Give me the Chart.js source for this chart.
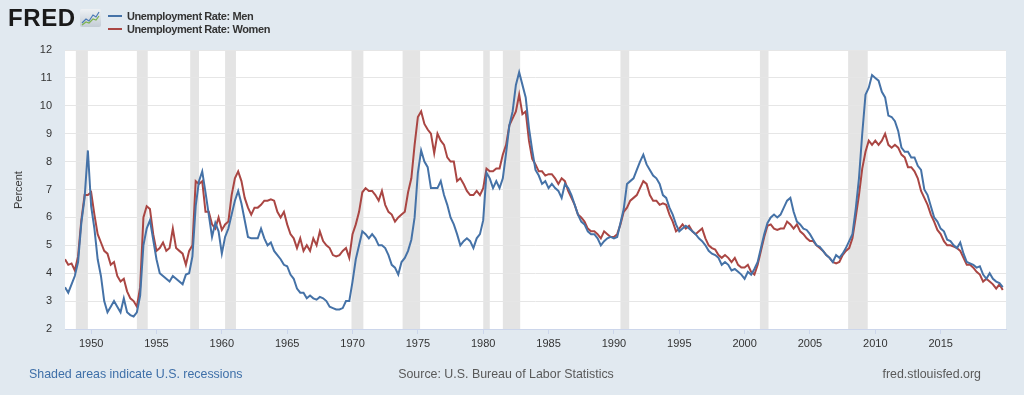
<!DOCTYPE html>
<html>
<head>
<meta charset="utf-8">
<script src="https://cdn.jsdelivr.net/npm/chart.js@4.4.1/dist/chart.umd.min.js"></script>
<style>
  body { margin: 0; background: #e1e9f0; font-family: "Liberation Sans", Arial, sans-serif; }
  #page { position: relative; width: 1024px; height: 395px; overflow: hidden; }
  #wrap { position: absolute; left: 0; top: 0; width: 1024px; height: 395px; }
  .logo { position: absolute; left: 8px; top: 5px; font-size: 24px; line-height: 26px; font-weight: bold; letter-spacing: 0.6px; color: #1a1a1a; }
  .icon { position: absolute; left: 80px; top: 9px; }
  .leg { position: absolute; left: 108px; font-size: 11px; font-weight: bold; letter-spacing: -0.4px; color: #333; line-height: 13px; }
  .leg i { display: inline-block; width: 14px; height: 2px; vertical-align: middle; margin-right: 5px; position: relative; top: -1px; }
  .ytitle { position: absolute; left: 18px; top: 190px; font-size: 11px; color: #333; transform: translate(-50%, -50%) rotate(-90deg); }
  .foot { position: absolute; top: 366px; font-size: 12.4px; line-height: 16px; color: #595959; }
</style>
</head>
<body>
<div id="page">
  <div id="wrap"><canvas id="chart"></canvas></div>
  <div class="logo">FRED</div>
  <svg class="icon" width="21" height="18" viewBox="0 0 21 18">
    <defs><linearGradient id="g" x1="0" y1="0" x2="0" y2="1"><stop offset="0" stop-color="#eef1f4"/><stop offset="1" stop-color="#c3ccd5"/></linearGradient></defs>
    <rect x="0" y="0" width="21" height="18" rx="2" fill="url(#g)"/>
    <polyline points="2,14 6,10 9,12 13,6 16,8 19,3" fill="none" stroke="#4a7ab5" stroke-width="1.2"/>
    <polyline points="2,16 6,13 9,14 13,10 16,11 19,7" fill="none" stroke="#7db350" stroke-width="1.2"/>
  </svg>
  <div class="leg" style="top:10px"><i style="background:#4572a7"></i>Unemployment Rate: Men</div>
  <div class="leg" style="top:23px"><i style="background:#aa4643"></i>Unemployment Rate: Women</div>
  <div class="ytitle">Percent</div>
  <div class="foot" style="left:29px;color:#3e6fa8">Shaded areas indicate U.S. recessions</div>
  <div class="foot" style="left:506px;transform:translateX(-50%)">Source: U.S. Bureau of Labor Statistics</div>
  <div class="foot" style="right:43px">fred.stlouisfed.org</div>
</div>
<script>
// Taux de chômage trimestriel, de 1948 T1 à 2019 T4
const firstYear = 1948;
const lastYear = 2019;

const menRate = [
  3.5, 3.3, 3.6, 3.9,     4.4, 5.8, 6.7, 8.4,     6.4, 5.6, 4.5, 3.9,     3.0, 2.6, 2.8, 3.0,
  2.8, 2.6, 3.1, 2.6,     2.5, 2.45, 2.6, 3.2,    5.0, 5.6, 5.9, 5.2,     4.5, 4.0, 3.9, 3.8,
  3.7, 3.9, 3.8, 3.7,     3.6, 3.95, 4.0, 4.6,    6.4, 7.3, 7.65, 6.9,    6.1, 5.3, 5.8, 5.5,
  4.7, 5.3, 5.6, 6.1,     6.6, 6.95, 6.5, 5.9,    5.3, 5.25, 5.25, 5.25,  5.6, 5.25, 5.0, 5.1,
  4.8, 4.65, 4.5, 4.3,    4.25, 3.95, 3.8, 3.45,  3.3, 3.3, 3.1, 3.2,     3.1, 3.05, 3.15, 3.1,
  3.0, 2.8, 2.75, 2.7,    2.7, 2.75, 3.0, 3.0,    3.7, 4.5, 5.0, 5.5,     5.4, 5.25, 5.4, 5.25,
  5.0, 5.0, 4.9, 4.65,    4.3, 4.2, 3.95, 4.4,    4.55, 4.8, 5.2, 6.0,    7.6, 8.4, 8.0, 7.8,
  7.05, 7.05, 7.05, 7.3,  6.8, 6.45, 6.0, 5.75,   5.4, 5.0, 5.15, 5.25,   5.15, 4.9, 5.25, 5.4,
  5.9, 7.6, 7.4, 7.05,    7.3, 7.05, 7.4, 8.3,    9.3, 9.8, 10.75, 11.2,  10.75, 10.3, 9.2, 8.4,
  7.7, 7.5, 7.2, 7.3,     7.05, 7.2, 7.05, 6.95,  6.7, 7.2, 7.05, 6.8,    6.45, 6.1, 5.85, 5.75,
  5.5, 5.4, 5.4, 5.25,    5.0, 5.15, 5.25, 5.3,   5.25, 5.3, 5.8, 6.3,    7.2, 7.3, 7.4, 7.7,
  8.0, 8.25, 7.9, 7.7,    7.5, 7.4, 7.2, 6.8,     6.7, 6.35, 6.1, 5.75,   5.5, 5.6, 5.7, 5.6,
  5.5, 5.4, 5.25, 5.15,   5.0, 4.8, 4.7, 4.65,    4.55, 4.3, 4.4, 4.3,    4.1, 4.15, 4.05, 3.95,
  3.8, 4.05, 3.95, 4.15,  4.4, 4.9, 5.4, 5.8,     6.0, 6.1, 6.0, 6.1,     6.35, 6.6, 6.7, 6.2,
  5.85, 5.75, 5.6, 5.55,  5.4, 5.2, 5.0, 4.95,    4.8, 4.65, 4.55, 4.4,   4.65, 4.55, 4.7, 4.9,
  5.15, 5.4, 6.3, 7.4,    9.0, 10.4, 10.65, 11.1, 11.0, 10.9, 10.5, 10.3, 9.65, 9.6, 9.45, 9.1,
  8.5, 8.35, 8.35, 8.15,  8.15, 7.85, 7.7, 7.0,   6.8, 6.4, 6.0, 5.85,    5.6, 5.5, 5.2, 5.15,
  5.0, 4.9, 5.1, 4.7,     4.4, 4.35, 4.3, 4.2,    4.25, 3.95, 3.8, 4.0,   3.8, 3.7, 3.65, 3.5
];

const womenRate = [
  4.5, 4.3, 4.35, 4.1,    4.6, 5.9, 6.8, 6.8,     6.9, 6.1, 5.4, 5.1,     4.8, 4.7, 4.3, 4.4,
  3.9, 3.7, 3.8, 3.35,    3.1, 3.0, 2.8, 3.5,     6.0, 6.4, 6.3, 5.4,     4.8, 4.9, 5.1, 4.8,
  4.9, 5.6, 4.9, 4.8,     4.7, 4.3, 4.8, 5.0,     7.3, 7.2, 7.3, 6.2,     6.2, 5.75, 5.6, 6.0,
  5.55, 5.75, 5.85, 6.8,  7.4, 7.65, 7.3, 6.7,    6.35, 6.1, 6.35, 6.35,  6.45, 6.6, 6.6, 6.65,
  6.6, 6.2, 6.0, 6.2,     5.75, 5.4, 5.25, 4.9,   5.25, 4.8, 5.0, 4.8,    5.25, 5.0, 5.5, 5.15,
  5.0, 4.9, 4.65, 4.6,    4.65, 4.8, 4.9, 4.55,   5.4, 5.75, 6.2, 6.9,    7.05, 6.95, 6.95, 6.8,
  6.6, 6.95, 6.45, 6.2,   6.1, 5.85, 6.0, 6.1,    6.2, 6.9, 7.4, 8.6,     9.6, 9.8, 9.35, 9.15,
  9.0, 8.3, 9.0, 8.75,    8.6, 8.15, 8.0, 8.0,    7.3, 7.4, 7.2, 6.95,    6.8, 6.8, 6.95, 6.8,
  7.05, 7.75, 7.65, 7.65, 7.75, 7.75, 8.25, 8.6,  9.3, 9.55, 9.8, 10.4,   9.7, 9.8, 8.75, 8.1,
  7.9, 7.65, 7.65, 7.5,   7.55, 7.55, 7.4, 7.2,   7.4, 7.3, 6.95, 6.7,    6.45, 6.1, 6.0, 5.85,
  5.6, 5.5, 5.5, 5.4,     5.25, 5.5, 5.4, 5.3,    5.3, 5.4, 5.75, 6.2,    6.35, 6.6, 6.7, 6.8,
  7.05, 7.3, 7.2, 6.8,    6.6, 6.6, 6.45, 6.5,    6.45, 6.1, 5.85, 5.5,   5.6, 5.75, 5.6, 5.7,
  5.5, 5.4, 5.5, 5.6,     5.25, 5.0, 4.9, 4.85,   4.65, 4.55, 4.65, 4.55, 4.4, 4.55, 4.3, 4.2,
  4.2, 4.3, 4.05, 3.95,   4.3, 4.8, 5.3, 5.7,     5.75, 5.6, 5.55, 5.6,   5.6, 5.85, 5.75, 5.6,
  5.75, 5.5, 5.4, 5.25,   5.15, 5.15, 5.0, 4.9,   4.8, 4.65, 4.55, 4.4,   4.35, 4.4, 4.65, 4.8,
  4.9, 5.25, 6.0, 6.8,    7.75, 8.35, 8.75, 8.6,  8.75, 8.6, 8.75, 9.0,   8.6, 8.5, 8.6, 8.5,
  8.25, 8.15, 7.8, 7.8,   7.65, 7.4, 6.95, 6.7,   6.45, 6.1, 5.85, 5.55,  5.4, 5.15, 5.0, 5.0,
  4.95, 4.9, 4.8, 4.55,   4.3, 4.3, 4.2, 4.05,    3.95, 3.7, 3.8, 3.7,    3.6, 3.45, 3.6, 3.4
];

// Récessions (NBER), en années décimales
const recessionStart = [1948.83, 1953.5, 1957.58, 1960.25, 1969.92, 1973.83, 1980.0, 1981.5, 1990.5, 2001.17, 2007.92];
const recessionEnd   = [1949.75, 1954.33, 1958.25, 1961.08, 1970.83, 1975.17, 1980.5, 1982.83, 1991.17, 2001.83, 2009.42];

const tickYears = [1950, 1955, 1960, 1965, 1970, 1975, 1980, 1985, 1990, 1995, 2000, 2005, 2010, 2015];

// Dates des trimestres
const quarters = [];
for (let y = firstYear; y <= lastYear; y++) {
    for (let q = 0; q < 4; q++) quarters.push(y + q / 4);
}

/**
 * Fond blanc de la zone de tracé et bandes de récession
 */
const recessionPlugin = {
    id: 'recessions',
    beforeDraw(chart) {
        const { ctx, chartArea, scales } = chart;
        ctx.save();
        ctx.fillStyle = '#ffffff';
        ctx.fillRect(chartArea.left, chartArea.top, chartArea.right - chartArea.left, chartArea.bottom - chartArea.top);
        ctx.fillStyle = '#e4e4e4';
        for (let i = 0; i < recessionStart.length; i++) {
            const x1 = scales.x.getPixelForValue(recessionStart[i]);
            const x2 = scales.x.getPixelForValue(recessionEnd[i]);
            ctx.fillRect(x1, chartArea.top, x2 - x1, chartArea.bottom - chartArea.top);
        }
        ctx.restore();
    }
};

function toPoints(values) {
    return values.map((v, i) => ({ x: quarters[i], y: v }));
}

document.addEventListener('DOMContentLoaded', function() {
    const ctx = document.getElementById('chart').getContext('2d');

    new Chart(ctx, {
        type: 'line',
        data: {
            datasets: [
                {
                    label: 'Unemployment Rate: Men',
                    data: toPoints(menRate),
                    borderColor: '#4572a7',
                    borderWidth: 2,
                    pointRadius: 0,
                    tension: 0
                },
                {
                    label: 'Unemployment Rate: Women',
                    data: toPoints(womenRate),
                    borderColor: '#aa4643',
                    borderWidth: 2,
                    pointRadius: 0,
                    tension: 0
                }
            ]
        },
        options: {
            responsive: true,
            maintainAspectRatio: false,
            animation: false,
            layout: { padding: { top: 50, right: 18, bottom: 40, left: 0 } },
            plugins: {
                legend: { display: false },
                tooltip: { enabled: false }
            },
            scales: {
                x: {
                    type: 'linear',
                    min: 1948,
                    max: 2020,
                    grid: { drawOnChartArea: false, color: '#ccd6eb', tickLength: 5 },
                    border: { color: '#ccd6eb' },
                    ticks: {
                        font: { size: 11, family: 'Liberation Sans' },
                        color: '#333',
                        padding: 3,
                        maxRotation: 0,
                        callback: v => String(v)
                    },
                    afterBuildTicks: s => { s.ticks = tickYears.map(v => ({ value: v })); },
                    afterFit: s => { s.height = 26; }
                },
                y: {
                    min: 2,
                    max: 12,
                    grid: { color: '#e6e6e6', drawTicks: false },
                    border: { display: false },
                    ticks: {
                        stepSize: 1,
                        font: { size: 11, family: 'Liberation Sans' },
                        color: '#333',
                        padding: 13
                    },
                    afterFit: s => { s.width = 65; }
                }
            }
        },
        plugins: [recessionPlugin]
    });
});
</script>
</body>
</html>
